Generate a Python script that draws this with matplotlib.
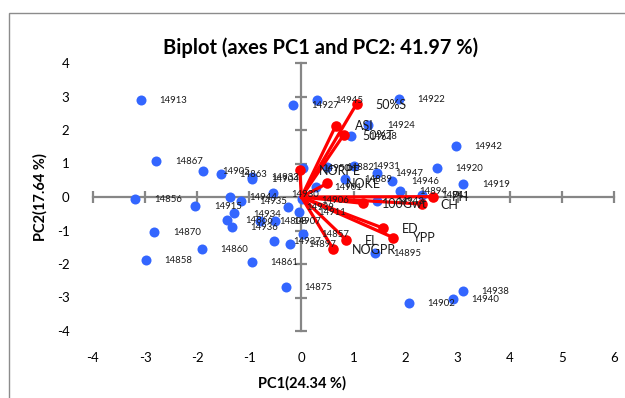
import matplotlib
matplotlib.use("Agg")
import matplotlib.pyplot as plt
from matplotlib.patches import Rectangle

plt.rcParams['font.family'] = ['Lato', 'DejaVu Sans']

# Observations (PC1, PC2)
obs_labels = ["14913", "14927", "14945", "14922", "14924", "14928", "14942", "14867",
              "14905", "14863", "14933", "14904", "14920", "14919", "14856", "14915",
              "14944", "14935", "14930", "14939", "14911", "14906", "14934", "14866",
              "14936", "14808", "14907", "14870", "14860", "14858", "14861", "14875",
              "14937", "14897", "14857", "14943", "14895", "14938", "14940", "14902",
              "14950", "14882", "14931", "14901", "14889", "14947", "14946", "14894",
              "14941"]
obs_pc1 = [-3.08, -0.17, 0.29, 1.87, 1.28, 0.95, 2.96, -2.79,
           -1.88, -1.55, -0.94, -0.94, 2.60, 3.11, -3.19, -2.04,
           -1.37, -1.16, -0.55, -0.26, -0.04, 0.02, -1.29, -1.43,
           -1.34, -0.79, -0.51, -2.82, -1.91, -2.99, -0.95, -0.30,
           -0.52, -0.22, 0.03, 1.46, 1.41, 3.10, 2.91, 2.06,
           0.04, 0.50, 1.00, 0.28, 0.84, 1.45, 1.74, 1.90,
           2.32]
obs_pc2 = [2.90, 2.75, 2.89, 2.93, 2.15, 1.82, 1.52, 1.08,
           0.78, 0.68, 0.61, 0.54, 0.88, 0.39, -0.06, -0.26,
           0.01, -0.11, 0.11, -0.29, -0.44, -0.07, -0.49, -0.69,
           -0.89, -0.71, -0.71, -1.04, -1.55, -1.88, -1.93, -2.69,
           -1.31, -1.40, -1.10, -0.12, -1.66, -2.80, -3.05, -3.15,
           0.86, 0.91, 0.93, 0.31, 0.53, 0.71, 0.49, 0.19,
           0.06]

# Variables (loadings)
var_labels = ["50%S", "ASI", "50%T", "NORPE", "NOKE", "100Gwt", "CH", "PH",
              "ED", "YPP", "EL", "NOGPR"]
var_pc1 = [1.06, 0.66, 0.81, -0.03, 0.50, 1.19, 2.31, 2.53, 1.57, 1.76, 0.86, 0.61]
var_pc2 = [2.78, 2.13, 1.85, 0.80, 0.41, -0.19, -0.21, 0.01, -0.93, -1.21, -1.28, -1.55]

x_ticks = [-4, -3, -2, -1, 0, 1, 2, 3, 4, 5, 6]
y_ticks = [-4, -3, -2, -1, 0, 1, 2, 3, 4]

title = "Biplot (axes PC1 and PC2: 41.97 %)"
xlabel = "PC1(24.34 %)"
ylabel = "PC2(17.64 %)"

BLUE = "#3366ff"
RED = "#ff0000"
GRAY = "#868686"

fig = plt.figure(figsize=(6.25, 3.98), dpi=100)
fig.patches.append(Rectangle((9/625, -0.1), 1.2, 1 - 13/398 + 0.1, transform=fig.transFigure,
                             fill=False, edgecolor="#8c8c8c", linewidth=1.0))

ax = fig.add_axes([93/625, 1 - 331/398, 521/625, 268/398])
ax.set_xlim(x_ticks[0], x_ticks[-1])
ax.set_ylim(y_ticks[0], y_ticks[-1])
for s in ax.spines.values():
    s.set_visible(False)

# axis lines through origin with cross tick marks
ax.plot([x_ticks[0], x_ticks[-1]], [0, 0], color=GRAY, lw=1.6, zorder=1, clip_on=False)
ax.plot([0, 0], [y_ticks[0], y_ticks[-1]], color=GRAY, lw=1.6, zorder=1, clip_on=False)
ax.plot(x_ticks, [0]*len(x_ticks), ls='none', marker='|', ms=8, mew=1.6, color=GRAY,
        zorder=1, clip_on=False)
ax.plot([0]*len(y_ticks), y_ticks, ls='none', marker='_', ms=8, mew=1.6, color=GRAY,
        zorder=1, clip_on=False)

ax.set_xticks(x_ticks)
ax.set_yticks(y_ticks)
ax.set_xticklabels([str(t) for t in x_ticks], fontsize=9.5)
ax.set_yticklabels([str(t) for t in y_ticks], fontsize=9.5)
ax.tick_params(axis='x', length=0, pad=15)
ax.tick_params(axis='y', length=0, pad=17)

# arrows (variables)
for vx, vy in zip(var_pc1, var_pc2):
    ax.plot([0, vx], [0, vy], color=RED, lw=2.3, zorder=3, solid_capstyle='round')
ax.scatter(var_pc1, var_pc2, s=58, color=RED, zorder=4, linewidths=0)

# observations
ax.scatter(obs_pc1, obs_pc2, s=52, color=BLUE, zorder=2, linewidths=0)
for lab, x, y in zip(obs_labels, obs_pc1, obs_pc2):
    ax.annotate(lab, (x, y), xytext=(13.5, -0.5), textcoords='offset points',
                ha='left', va='center', fontsize=6.9, color='#1a1a1a', zorder=5)
for lab, x, y in zip(var_labels, var_pc1, var_pc2):
    ax.annotate(lab, (x, y), xytext=(13.5, -0.5), textcoords='offset points',
                ha='left', va='center', fontsize=9, color='#1a1a1a', zorder=5)

fig.text(321/625, 1 - 48/398, title, ha='center', va='center', fontsize=14.5,
         fontweight='bold')
fig.text(302/625, 1 - 383/398, xlabel, ha='center', va='center', fontsize=10.5,
         fontweight='bold')
fig.text(40/625, 1 - 197/398, ylabel, ha='center', va='center', fontsize=10.5,
         fontweight='bold', rotation=90)

fig.savefig("out.png", dpi=100)
